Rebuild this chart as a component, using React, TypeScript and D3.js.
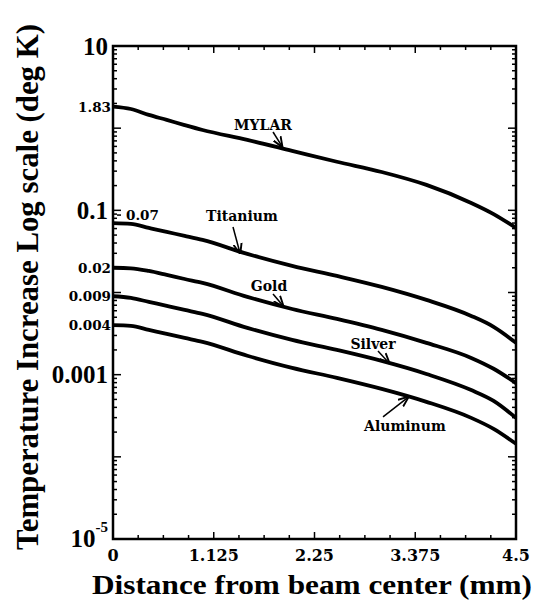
import React from "react";
import * as d3 from "d3";

// distance from beam center (mm)
const distance = [0, 0.2, 0.4, 0.6, 0.8, 1.0, 1.5, 2.0, 2.5, 3.0, 3.5, 4.0, 4.25, 4.5];
// temperature increase (deg K)
const mylar = [1.83, 1.71, 1.45, 1.26, 1.09, 0.95, 0.72, 0.53, 0.39, 0.293, 0.204, 0.123, 0.09, 0.061];
const titanium = [0.07, 0.0684, 0.0611, 0.0546, 0.0489, 0.0436, 0.0295, 0.0211, 0.0159, 0.0117, 0.00812, 0.00519, 0.00382, 0.00244];
const gold = [0.02, 0.0197, 0.0183, 0.0164, 0.0146, 0.0131, 0.00885, 0.0063, 0.00477, 0.00351, 0.00244, 0.0016, 0.00118, 0.00079];
const silver = [0.009, 0.0086, 0.00769, 0.00687, 0.00614, 0.0055, 0.00371, 0.00265, 0.002, 0.00147, 0.00102, 0.00065, 0.00048, 0.000298];
const aluminum = [0.004, 0.00393, 0.00351, 0.00313, 0.0028, 0.00251, 0.0017, 0.00121, 0.000914, 0.000671, 0.000467, 0.000298, 0.000219, 0.000144];

const xTicks = [0, 1.125, 2.25, 3.375, 4.5];
const xTickLabels = ["0", "1.125", "2.25", "3.375", "4.5"];
const majorYTicks = [10, 0.1, 0.001];
const majorYLabels = ["10", "0.1", "0.001"];
const startValues = [1.83, 0.02, 0.009, 0.004];
const startLabels = ["1.83", "0.02", "0.009", "0.004"];

// curve names with label position and arrow (data units)
const curveNames = ["MYLAR", "Titanium", "Gold", "Silver", "Aluminum"];
const labelAt = [[1.675, 0.95], [1.44, 0.0741], [1.742, 0.0104], [2.903, 0.00206], [3.26, 0.000207]];
const arrowFrom = [[1.787, 0.898], [1.34, 0.0627], [1.787, 0.0096], [2.959, 0.00194], [3.015, 0.000306]];
const arrowTo = [[1.887, 0.6], [1.418, 0.0303], [1.898, 0.0069], [3.082, 0.00139], [3.294, 0.00053]];

const width = 545;
const height = 602;
const margin = { top: 46, right: 29, bottom: 63, left: 113 };
const innerWidth = width - margin.left - margin.right;
const innerHeight = height - margin.top - margin.bottom;

const bold = "'Liberation Serif', 'Times New Roman', serif";
const boldWide = "'DejaVu Serif', serif";

export default function App() {
  const xScale = d3.scaleLinear().domain([0, 4.5]).range([0, innerWidth]);
  const yScale = d3.scaleLog().domain([1e-5, 10]).range([innerHeight, 0]);

  const line = d3
    .line<number>()
    .x((_, i) => xScale(distance[i]))
    .y((d) => yScale(d))
    .curve(d3.curveMonotoneX);

  const series = [mylar, titanium, gold, silver, aluminum];

  // log minor ticks
  const minorY: number[] = [];
  for (let e = -5; e < 1; e++) {
    for (let k = 2; k <= 9; k++) minorY.push(k * Math.pow(10, e));
  }
  const decadeY = d3.range(-5, 2).map((e) => Math.pow(10, e));
  const minorX = d3.range(0, 17).map((i) => i * 0.28125);

  return (
    <svg
      width={width}
      height={height}
      style={{ position: "absolute", left: 0, top: 0, background: "#fff" }}
    >
      <defs>
        <marker id="arr" viewBox="0 0 10 10" refX="9" refY="5" markerWidth="7" markerHeight="7" orient="auto">
          <path d="M0,1 L10,5 L0,9" fill="none" stroke="#000" strokeWidth="1.8" />
        </marker>
      </defs>
      <g transform={`translate(${margin.left},${margin.top})`}>
        {/* frame */}
        <rect x={0} y={0} width={innerWidth} height={innerHeight} fill="none" stroke="#000" strokeWidth={2.5} />

        {/* y ticks, left and right */}
        {minorY.map((v, i) => (
          <g key={"my" + i}>
            <line x1={0} x2={4} y1={yScale(v)} y2={yScale(v)} stroke="#000" strokeWidth={1.5} />
            <line x1={innerWidth} x2={innerWidth - 4} y1={yScale(v)} y2={yScale(v)} stroke="#000" strokeWidth={1.5} />
          </g>
        ))}
        {decadeY.map((v, i) => (
          <g key={"dy" + i}>
            <line x1={0} x2={8} y1={yScale(v)} y2={yScale(v)} stroke="#000" strokeWidth={1.5} />
            <line x1={innerWidth} x2={innerWidth - 8} y1={yScale(v)} y2={yScale(v)} stroke="#000" strokeWidth={1.5} />
          </g>
        ))}

        {/* x ticks, bottom and top */}
        {minorX.map((v, i) => {
          const len = i % 4 === 0 ? 7 : 4;
          return (
            <g key={"mx" + i}>
              <line x1={xScale(v)} x2={xScale(v)} y1={innerHeight} y2={innerHeight - len} stroke="#000" strokeWidth={1.5} />
              <line x1={xScale(v)} x2={xScale(v)} y1={0} y2={len} stroke="#000" strokeWidth={1.5} />
            </g>
          );
        })}

        {/* curves */}
        {series.map((s, i) => (
          <path key={"c" + i} d={line(s) || ""} fill="none" stroke="#000" strokeWidth={3.8} strokeLinejoin="round" />
        ))}

        {/* curve labels with arrows */}
        {curveNames.map((name, i) => (
          <g key={"lab" + i}>
            <text
              x={xScale(labelAt[i][0])}
              y={yScale(labelAt[i][1])}
              textAnchor="middle"
              fontFamily={boldWide}
              fontWeight="bold"
              fontSize={14}
            >
              {name}
            </text>
            <line
              x1={xScale(arrowFrom[i][0])}
              y1={yScale(arrowFrom[i][1])}
              x2={xScale(arrowTo[i][0])}
              y2={yScale(arrowTo[i][1])}
              stroke="#000"
              strokeWidth={1.5}
              markerEnd="url(#arr)"
            />
          </g>
        ))}

        {/* major y labels */}
        {majorYTicks.map((v, i) => (
          <text
            key={"yl" + i}
            x={-5}
            y={yScale(v)}
            dy="0.35em"
            textAnchor="end"
            fontFamily={bold}
            fontWeight="bold"
            fontSize={25}
          >
            {majorYLabels[i]}
          </text>
        ))}
        <text x={-5} y={yScale(1e-5) + 8} textAnchor="end" fontFamily={bold} fontWeight="bold" fontSize={25}>
          10
          <tspan dy={-15} fontSize={15}>
            -5
          </tspan>
        </text>

        {/* starting values */}
        {startValues.map((v, i) => (
          <text
            key={"sv" + i}
            x={-2}
            y={yScale(v)}
            dy="0.38em"
            textAnchor="end"
            fontFamily={boldWide}
            fontWeight="bold"
            fontSize={13.5}
          >
            {startLabels[i]}
          </text>
        ))}
        <line x1={4} x2={8} y1={yScale(titanium[0]) - 8} y2={yScale(titanium[0]) - 8} stroke="#000" strokeWidth={1.5} />
        <text x={13} y={yScale(titanium[0]) - 8} dy="0.38em" fontFamily={boldWide} fontWeight="bold" fontSize={13.5}>
          0.07
        </text>

        {/* x labels */}
        {xTicks.map((v, i) => (
          <text
            key={"xl" + i}
            x={xScale(v)}
            y={innerHeight + 22}
            textAnchor="middle"
            fontFamily={boldWide}
            fontWeight="bold"
            fontSize={16}
          >
            {xTickLabels[i]}
          </text>
        ))}
      </g>

      {/* axis titles */}
      <text
        x={312}
        y={594}
        textAnchor="middle"
        fontFamily={bold}
        fontWeight="bold"
        fontSize={28}
        textLength={440}
        lengthAdjust="spacingAndGlyphs"
      >
        Distance from beam center (mm)
      </text>
      <text
        transform="translate(38,287) rotate(-90)"
        textAnchor="middle"
        fontFamily={bold}
        fontWeight="bold"
        fontSize={31}
        textLength={526}
        lengthAdjust="spacingAndGlyphs"
      >
        Temperature Increase Log scale (deg K)
      </text>
    </svg>
  );
}
